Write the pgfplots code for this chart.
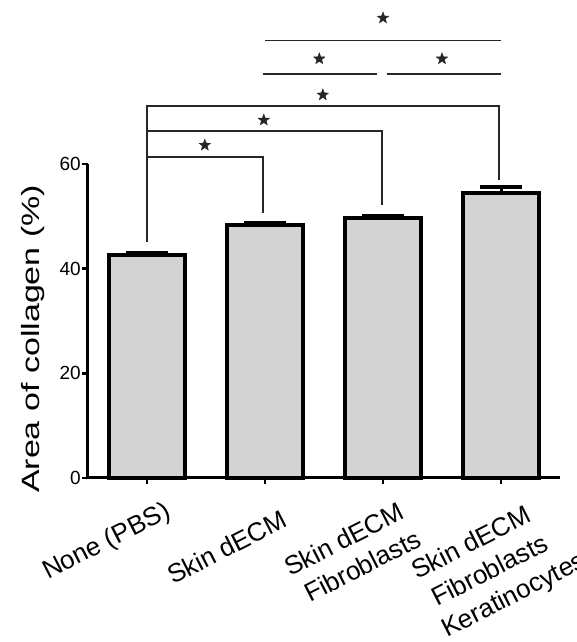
\documentclass[border=0pt]{standalone}
\usepackage{fontspec}
\setmainfont{Liberation Sans}
\usepackage{graphicx}
\usepackage{pgfplots}
\pgfplotsset{compat=1.18}
\definecolor{barfill}{RGB}{211,211,211}
\pgfdeclareplotmark{fstar}{%
  \pgfpathmoveto{\pgfpointpolar{90}{\pgfplotmarksize}}%
  \pgfpathlineto{\pgfpointpolar{126}{0.42*\pgfplotmarksize}}%
  \pgfpathlineto{\pgfpointpolar{162}{\pgfplotmarksize}}%
  \pgfpathlineto{\pgfpointpolar{198}{0.42*\pgfplotmarksize}}%
  \pgfpathlineto{\pgfpointpolar{234}{\pgfplotmarksize}}%
  \pgfpathlineto{\pgfpointpolar{270}{0.42*\pgfplotmarksize}}%
  \pgfpathlineto{\pgfpointpolar{306}{\pgfplotmarksize}}%
  \pgfpathlineto{\pgfpointpolar{342}{0.42*\pgfplotmarksize}}%
  \pgfpathlineto{\pgfpointpolar{18}{\pgfplotmarksize}}%
  \pgfpathlineto{\pgfpointpolar{54}{0.42*\pgfplotmarksize}}%
  \pgfpathclose
  \pgfusepathqfillstroke}
\begin{document}
\begin{tikzpicture}
\useasboundingbox (-88pt,-164pt) rectangle (488pt,478pt);
\begin{axis}[
  at={(0,0)}, anchor=south west,
  scale only axis, width=472pt, height=314pt,
  xmin=-0.5, xmax=3.5, ymin=0, ymax=60,
  axis lines=left, axis line style={-, line width=3pt},
  clip=false,
  xtick={0,1,2,3}, xticklabels={},
  ytick={0,20,40,60},
  tick align=outside,
  major tick length=6pt,
  every tick/.style={black, line width=2.5pt},
  yticklabel style={font=\fontsize{19}{19}\selectfont, inner sep=1pt},
  /pgf/number format/assume math mode=true,
  ylabel={\scalebox{1.36}[1]{Area of collagen (\%)}},
  ylabel style={font=\fontsize{25}{25}\selectfont, at={(axis description cs:-0.1165,0.443)}, anchor=center},
]
\addplot[ybar, bar width=0.65, fill=barfill, draw=black, line width=4pt,
  error bars/.cd, y dir=plus, y explicit,
  error bar style={line width=3pt, black},
  error mark options={black, rotate=90, line width=4pt, mark size=21pt}]
  coordinates {(0,42.6) +- (0,0.4) (1,48.4) +- (0,0.4) (2,49.6) +- (0,0.5) (3,54.5) +- (0,1.1)};
\addplot[black!85, line width=1.8pt] coordinates {(1,83.6) (3,83.6)};
\addplot[black!85, line width=1.8pt] coordinates {(0.98,77.2) (1.95,77.2)};
\addplot[black!85, line width=1.8pt] coordinates {(2.03,77.2) (3,77.2)};
\addplot[black!85, line width=1.8pt] coordinates {(0,45.1) (0,71.1) (2.98,71.1) (2.98,56.9)};
\addplot[black!85, line width=1.8pt] coordinates {(0,66.3) (1.99,66.3) (1.99,52.2)};
\addplot[black!85, line width=1.8pt] coordinates {(0,61.3) (0.98,61.3) (0.98,50.6)};
\addplot[only marks, mark=fstar, mark size=6pt, mark options={fill=black!85, draw=black!85, line width=0.4pt}]
  coordinates {(2,87.9) (1.46,80.1) (2.5,80.1) (1.49,73.2) (0.99,68.4) (0.49,63.6)};
\end{axis}
\begin{scope}[every node/.style={font=\fontsize{26}{26}\selectfont, rotate=27, anchor=base west, inner sep=0pt}]
\node at (-40pt,-102pt) {None (PBS)};
\node at (85pt,-107pt) {Skin dECM};
\node at (202pt,-99pt) {Skin dECM};
\node at (222pt,-125pt) {Fibroblasts};
\node at (329pt,-102pt) {Skin dECM};
\node at (349pt,-129pt) {Fibroblasts};
\node at (359pt,-160pt) {Keratinocytes};
\end{scope}
\end{tikzpicture}
\end{document}
